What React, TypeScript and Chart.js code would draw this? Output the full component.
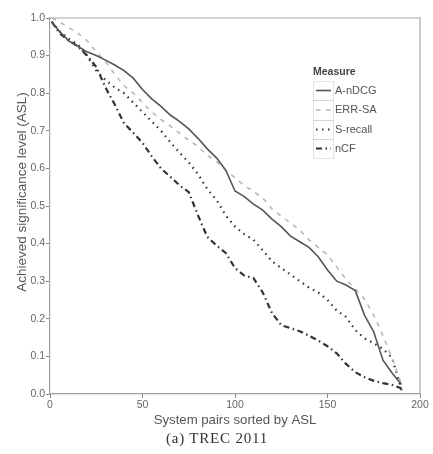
import React, { useEffect, useRef } from "react";
import { Chart, registerables } from "chart.js";

Chart.register(...registerables);

const pairs = [1, 5, 10, 15, 20, 25, 30, 35, 40, 45, 50, 55, 60, 65, 70, 75, 80, 85, 90, 95, 100, 105, 110, 115, 120, 125, 130, 135, 140, 145, 150, 155, 160, 165, 170, 175, 180, 185, 190];

const aNDCG = [0.99, 0.965, 0.94, 0.925, 0.91, 0.9, 0.888, 0.875, 0.86, 0.84, 0.81, 0.785, 0.765, 0.742, 0.725, 0.705, 0.68, 0.652, 0.628, 0.595, 0.54, 0.525, 0.505, 0.489, 0.465, 0.445, 0.42, 0.405, 0.39, 0.365, 0.33, 0.3, 0.29, 0.275, 0.21, 0.165, 0.09, 0.055, 0.025];
const errSA = [1.0, 0.99, 0.975, 0.96, 0.94, 0.91, 0.885, 0.85, 0.82, 0.8, 0.775, 0.75, 0.73, 0.713, 0.694, 0.675, 0.658, 0.635, 0.618, 0.595, 0.575, 0.555, 0.538, 0.522, 0.492, 0.473, 0.455, 0.436, 0.41, 0.39, 0.37, 0.338, 0.305, 0.28, 0.252, 0.21, 0.155, 0.095, 0.025];
const sRecall = [0.99, 0.965, 0.945, 0.93, 0.9, 0.86, 0.835, 0.815, 0.8, 0.775, 0.75, 0.725, 0.7, 0.67, 0.642, 0.616, 0.585, 0.545, 0.516, 0.475, 0.445, 0.425, 0.41, 0.382, 0.353, 0.335, 0.318, 0.3, 0.283, 0.27, 0.25, 0.222, 0.205, 0.17, 0.148, 0.135, 0.12, 0.095, 0.01];
const nCF = [0.99, 0.96, 0.94, 0.925, 0.9, 0.87, 0.815, 0.77, 0.72, 0.695, 0.668, 0.632, 0.6, 0.578, 0.555, 0.537, 0.475, 0.418, 0.395, 0.375, 0.335, 0.315, 0.308, 0.27, 0.215, 0.183, 0.175, 0.167, 0.155, 0.142, 0.127, 0.108, 0.08, 0.058, 0.045, 0.035, 0.029, 0.024, 0.015];

const seriesNames = ["A-nDCG", "ERR-SA", "S-recall", "nCF"];
const legendTitle = "Measure";
const xTitle = "System pairs sorted by ASL";
const yTitle = "Achieved significance level (ASL)";
const caption = "(a) TREC 2011";

const styles = [
  { color: "#555555", dash: [] as number[], width: 1.6 },
  { color: "#b8b8b8", dash: [4.5, 5.5], width: 1.6 },
  { color: "#333333", dash: [1.5, 4.5], width: 2.2 },
  { color: "#333333", dash: [6, 3.5, 1.5, 3.5], width: 2.2 },
];

const FONT = "'Liberation Sans', Arial, sans-serif";

const framePlugin = {
  id: "frameAndLegend",
  afterDraw(chart: any) {
    const { ctx, chartArea } = chart;
    ctx.save();
    // top and right frame
    ctx.strokeStyle = "#a8a8a8";
    ctx.lineWidth = 1.2;
    ctx.setLineDash([]);
    ctx.beginPath();
    ctx.moveTo(chartArea.left, chartArea.top);
    ctx.lineTo(chartArea.right, chartArea.top);
    ctx.lineTo(chartArea.right, chartArea.bottom);
    ctx.stroke();

    // y axis title
    ctx.save();
    ctx.translate(22, 192);
    ctx.rotate(-Math.PI / 2);
    ctx.fillStyle = "#555";
    ctx.font = `13.5px ${FONT}`;
    ctx.textAlign = "center";
    ctx.textBaseline = "middle";
    ctx.fillText(yTitle, 0, 0);
    ctx.restore();

    // legend
    const lx = 313;
    const boxW = 20;
    const rowTops = [81, 100, 120, 139, 158];
    ctx.fillStyle = "#444";
    ctx.font = `bold 10.5px ${FONT}`;
    ctx.textBaseline = "middle";
    ctx.textAlign = "left";
    ctx.fillText(legendTitle, lx, 72);
    for (let i = 0; i < 4; i++) {
      const top = rowTops[i];
      const h = rowTops[i + 1] - top;
      ctx.strokeStyle = "#bbbbbb";
      ctx.lineWidth = 0.8;
      ctx.setLineDash([1, 1]);
      ctx.strokeRect(lx + 0.5, top + 0.5, boxW, h);
      const cy = top + h / 2;
      const st = styles[i];
      ctx.strokeStyle = st.color;
      ctx.lineWidth = st.width;
      ctx.setLineDash(st.dash);
      ctx.beginPath();
      ctx.moveTo(lx + 3, cy);
      ctx.lineTo(lx + boxW - 2, cy);
      ctx.stroke();
      ctx.setLineDash([]);
      ctx.fillStyle = "#555";
      ctx.font = `11px ${FONT}`;
      ctx.fillText(seriesNames[i], lx + boxW + 2, cy);
    }
    ctx.restore();
  },
};

export default function App() {
  const ref = useRef<HTMLCanvasElement | null>(null);
  useEffect(() => {
    if (!ref.current) return;
    const ys = [aNDCG, errSA, sRecall, nCF];
    const chart = new Chart(ref.current, {
      type: "line",
      data: {
        datasets: ys.map((arr, i) => ({
          label: seriesNames[i],
          data: pairs.map((x, j) => ({ x, y: arr[j] })),
          borderColor: styles[i].color,
          borderWidth: styles[i].width,
          borderDash: styles[i].dash,
          pointRadius: 0,
          tension: 0,
          fill: false,
        })),
      },
      options: {
        responsive: false,
        animation: false,
        layout: { padding: { top: 18, right: 13, left: 0, bottom: 0 } },
        plugins: { legend: { display: false }, tooltip: { enabled: false } },
        scales: {
          x: {
            type: "linear",
            min: 0,
            max: 200,
            ticks: { stepSize: 50, color: "#666", font: { family: FONT, size: 10.5 }, padding: 1, maxRotation: 0 },
            grid: { display: true, drawOnChartArea: false, drawTicks: true, tickLength: 4, color: "#888" },
            border: { display: true, color: "#a0a0a0", dash: [1, 1.5], width: 1.2 },
            title: { display: true, text: xTitle, color: "#555", font: { family: FONT, size: 13.2 }, padding: { top: 0, bottom: 26 } },
            afterFit: (s: any) => { s.height = 60; },
          },
          y: {
            min: 0,
            max: 1,
            ticks: { stepSize: 0.1, color: "#666", font: { family: FONT, size: 10.5 }, padding: 1, callback: (v: any) => Number(v).toFixed(1) },
            grid: { display: true, drawOnChartArea: false, drawTicks: true, tickLength: 4, color: "#888" },
            border: { display: true, color: "#a0a0a0", dash: [1, 1.5], width: 1.2 },
            title: { display: false },
            afterFit: (s: any) => { s.width = 50; },
          },
        },
      },
      plugins: [framePlugin],
    });
    return () => chart.destroy();
  }, []);
  return (
    <div style={{ position: "absolute", left: 0, top: 0, width: 433, height: 454, background: "#fff" }}>
      <canvas ref={ref} width={433} height={454} style={{ width: 433, height: 454, display: "block" }} />
      <div style={{ position: "absolute", left: 117, width: 200, top: 429, textAlign: "center", fontFamily: "'Liberation Serif', 'Times New Roman', serif", fontSize: 15, letterSpacing: 0.8, color: "#333", lineHeight: "18px" }}>{caption}</div>
    </div>
  );
}
